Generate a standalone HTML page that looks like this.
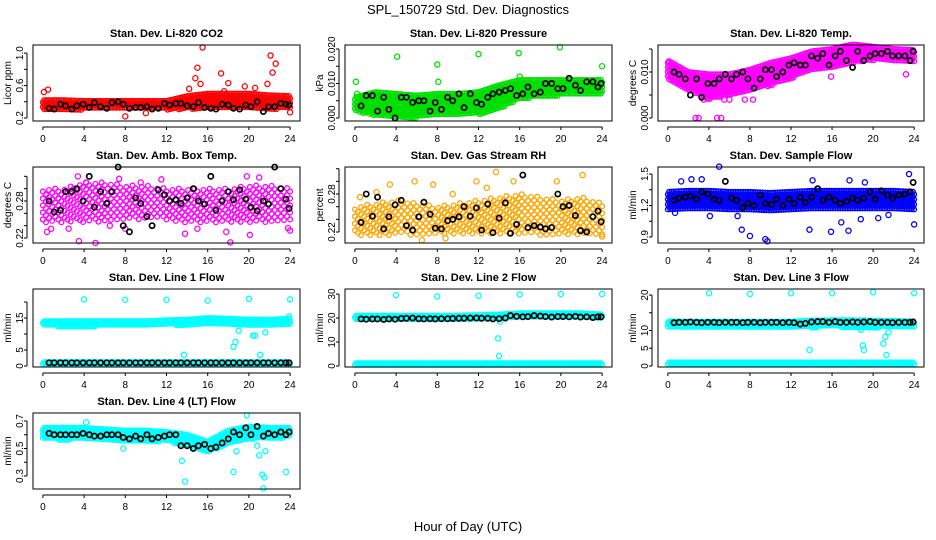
<!DOCTYPE html>
<html><head><meta charset="utf-8"><style>
body{margin:0;background:#fff;}
svg{display:block;font-family:"Liberation Sans",sans-serif;}
.t{font-weight:bold;font-size:11px;}
.k{font-size:10px;}
</style></head><body>
<svg id="c" width="936" height="540" viewBox="0 0 936 540">
<text x="468" y="14" text-anchor="middle" font-size="13">SPL_150729  Std. Dev. Diagnostics</text>
<text x="468" y="531" text-anchor="middle" font-size="13">Hour of Day (UTC)</text>
</svg>
<script>
const xTicks=[0,4,8,12,16,20,24];
const bandHours=[0,2,4,6,8,10,12,14,16,18,20,22,24];
const blackHours=[0.6,1.1,1.7,2.2,2.8,3.3,3.9,4.5,5.0,5.6,6.2,6.7,7.3,7.8,8.4,9.0,9.5,10.1,10.6,11.2,11.8,12.3,12.9,13.4,14.0,14.6,15.1,15.7,16.3,16.8,17.4,18.0,18.5,19.1,19.7,20.2,20.8,21.4,21.9,22.5,23.1,23.6,23.9];

const co2Lo=[0.30,0.30,0.30,0.30,0.30,0.30,0.30,0.31,0.31,0.31,0.31,0.31,0.31];
const co2Hi=[0.42,0.42,0.41,0.41,0.41,0.41,0.41,0.47,0.50,0.50,0.50,0.48,0.47];
const co2OutX=[15.5,22.1,22.6,15,17.3,22.3,14.8,21.8,18,19.6,0.1,0.5,8,24,10,15.3,14.2,17.6,20.6];
const co2OutY=[1.07,0.97,0.87,0.82,0.75,0.76,0.69,0.62,0.63,0.59,0.52,0.55,0.22,0.27,0.26,0.62,0.56,0.53,0.57];
const co2Blk=[0.32,0.31,0.37,0.35,0.31,0.35,0.37,0.33,0.39,0.34,0.32,0.39,0.40,0.37,0.32,0.33,0.33,0.34,0.31,0.32,0.38,0.36,0.38,0.38,0.35,0.34,0.39,0.33,0.32,0.31,0.37,0.36,0.32,0.31,0.36,0.34,0.40,0.28,0.34,0.34,0.38,0.37,0.36];

const presLo=[0.002,0.0005,0,0,0.0005,0.001,0.001,0.0025,0.0055,0.006,0.0065,0.0065,0.007];
const presHi=[0.006,0.0075,0.007,0.0065,0.007,0.007,0.0075,0.0095,0.011,0.011,0.011,0.011,0.011];
const presOutX=[0.1,4.1,8,8.1,12,15.9,16,19.9,24,0.2];
const presOutY=[0.0105,0.0178,0.0155,0.0105,0.0185,0.0188,0.012,0.0205,0.015,0.007];
const presBlk=[0.0035,0.0065,0.0065,0.002,0.006,0.0025,0.000,0.006,0.006,0.0045,0.005,0.005,0.002,0.0045,0.0025,0.006,0.005,0.007,0.003,0.007,0.0045,0.004,0.006,0.007,0.0075,0.008,0.0085,0.0065,0.007,0.009,0.007,0.0075,0.010,0.010,0.0085,0.0085,0.0115,0.0095,0.008,0.0105,0.0105,0.009,0.010];

const tempLo=[0.0085,0.006,0.004,0.005,0.006,0.007,0.0085,0.0105,0.011,0.012,0.0125,0.0125,0.012];
const tempHi=[0.0125,0.010,0.0095,0.0095,0.0105,0.012,0.013,0.0145,0.015,0.016,0.0155,0.015,0.0148];
const tempOutX=[3,4.8,5.2,3.5,6,8.3,15.9,23.2,0.1,2.7,5.5,7.5];
const tempOutY=[0,0,0,0.004,0.004,0.004,0.009,0.0095,0.0122,0,0.004,0.004];
const tempBlk=[0.010,0.0095,0.0085,0.005,0.0085,0.0045,0.0075,0.0075,0.0085,0.0095,0.0085,0.0095,0.010,0.0085,0.0065,0.0085,0.0105,0.0105,0.009,0.010,0.0115,0.012,0.0115,0.0115,0.0135,0.013,0.014,0.0115,0.0135,0.0145,0.0125,0.011,0.0145,0.0125,0.0135,0.014,0.014,0.0145,0.0135,0.0135,0.0135,0.0125,0.0145];

const ambLo=[0.245,0.245,0.245,0.245,0.25,0.25,0.25,0.245,0.245,0.245,0.245,0.245,0.245];
const ambHi=[0.30,0.30,0.31,0.31,0.305,0.305,0.30,0.30,0.30,0.30,0.305,0.305,0.30];
const ambOutX=[0.4,0.8,3.5,3.4,5.1,7.4,8,13.8,17.8,18.2,19.8,20.1,24,23.8,2.5,0.3,9.5,11.5,15,21,6.5,4.2];
const ambOutY=[0.23,0.235,0.215,0.32,0.212,0.316,0.235,0.227,0.23,0.213,0.32,0.225,0.232,0.236,0.235,0.29,0.31,0.315,0.235,0.318,0.24,0.31];
const ambBlk=[0.28,0.262,0.265,0.295,0.295,0.30,0.28,0.32,0.27,0.295,0.276,0.295,0.335,0.24,0.23,0.285,0.276,0.255,0.24,0.298,0.29,0.28,0.282,0.276,0.285,0.30,0.28,0.275,0.32,0.265,0.28,0.295,0.282,0.298,0.283,0.27,0.264,0.28,0.275,0.335,0.30,0.283,0.268];

const rhLo=[0.215,0.215,0.215,0.215,0.215,0.215,0.215,0.215,0.215,0.215,0.215,0.215,0.215];
const rhHi=[0.26,0.265,0.27,0.265,0.26,0.265,0.27,0.275,0.28,0.275,0.27,0.275,0.265];
const rhOutX=[5.8,7.6,3.4,11.8,13.7,15.4,19.6,22.1,6.5,8.8,24,2.1,0.5,9.5,12.8];
const rhOutY=[0.30,0.295,0.295,0.30,0.315,0.30,0.30,0.31,0.207,0.21,0.213,0.283,0.275,0.28,0.29];
const rhBlk=[0.235,0.28,0.245,0.275,0.225,0.244,0.263,0.27,0.23,0.223,0.244,0.267,0.248,0.226,0.225,0.238,0.24,0.244,0.26,0.245,0.258,0.223,0.264,0.219,0.242,0.266,0.218,0.232,0.31,0.227,0.23,0.228,0.225,0.227,0.28,0.26,0.262,0.246,0.222,0.22,0.244,0.253,0.236];

const flowLo=[1.15,1.15,1.15,1.15,1.14,1.15,1.15,1.16,1.16,1.16,1.15,1.15,1.16];
const flowHi=[1.33,1.34,1.34,1.33,1.33,1.32,1.33,1.34,1.34,1.34,1.34,1.34,1.33];
const flowOutX=[5,23.5,5.6,1.3,2.3,17.7,9.5,9.7,8,7.2,15.9,16.9,17.6,24,13.8,18.8,20.5,19.2,14.1,6.8,4.1,3.3,0.7,21.5];
const flowOutY=[1.57,1.50,1.43,1.43,1.45,1.44,0.88,0.86,0.91,0.97,0.95,1.04,0.96,1.02,0.97,1.07,1.08,1.42,1.44,1.10,1.10,1.45,1.13,1.11];
const flowBlk=[1.25,1.27,1.28,1.29,1.26,1.33,1.31,1.26,1.25,1.43,1.27,1.25,1.18,1.22,1.20,1.30,1.22,1.21,1.26,1.20,1.26,1.22,1.28,1.23,1.28,1.36,1.25,1.28,1.25,1.22,1.24,1.27,1.25,1.27,1.33,1.26,1.34,1.30,1.27,1.30,1.31,1.33,1.42];

const l1Lo=[12.5,12.3,12.3,12.4,12.5,12.6,12.7,12.8,13.2,13,12.8,12.8,13];
const l1Hi=[14,14,14,14,14,14,14.3,14.5,15,14.8,14.5,14.5,14.8];
const l1Lo2=[0.6,0.6,0.6,0.6,0.6,0.6,0.6,0.6,0.6,0.6,0.6,0.6,0.6];
const l1Hi2=[1.2,1.2,1.2,1.2,1.2,1.2,1.2,1.2,1.2,1.2,1.2,1.2,1.2];
const l1OutX=[4,8,12,16,20,24,13.7,18.5,18.7,19,20.4,20.6,21.1,21.6,23.9];
const l1OutY=[20.8,20.7,20.7,20.4,21,20.8,3.5,6,7.5,11,9.5,9.5,3.5,10.5,15.5];
const l1Blk=[1,1,1,1,1,1,1,1,1,1,1,1,1,1,1,1,1,1,1,1,1,1,1,1,1,1,1,1,1,1,1,1,1,1,1,1,1,1,1,1,1,1,1];

const l2Lo=[19,19,19,19,19,19.2,19.3,19.5,20,20,20,20,20];
const l2Hi=[21,21,21,21,21,21,21.2,21.5,22,22,22,22,21.5];
const l2Lo2=[0.3,0.3,0.3,0.3,0.3,0.3,0.3,0.3,0.3,0.3,0.3,0.3,0.3];
const l2Hi2=[1.2,1.2,1.2,1.2,1.2,1.2,1.2,1.2,1.2,1.2,1.2,1.2,1.2];
const l2OutX=[4,8,12,16,20,24,13.9,14,14.1];
const l2OutY=[29.5,29,29.3,29.8,30,30,11.5,4.2,18.5];
const l2Blk=[19.6,19.5,19.6,19.6,19.4,19.6,19.5,19.8,19.9,20,19.7,19.6,19.7,19.6,19.7,19.7,19.8,19.9,19.9,20,20,19.9,19.9,19.6,19.7,20,21,20.7,20.5,20.6,21,20.8,20.6,20.4,20.6,20.6,20.5,20.7,20.4,20.5,20.2,20.5,20.5];

const l3Lo=[10.8,10.6,10.6,10.6,10.7,10.7,10.8,10.8,11,10.8,10.8,10.8,10.8];
const l3Hi=[12.6,12.5,12.5,12.5,12.5,12.5,12.5,12.8,12.9,12.9,12.8,12.7,12.6];
const l3Lo2=[0.3,0.3,0.3,0.3,0.3,0.3,0.3,0.3,0.3,0.3,0.3,0.3,0.3];
const l3Hi2=[1.0,1.0,1.0,1.0,1.0,1.0,1.0,1.0,1.0,1.0,1.0,1.0,1.0];
const l3OutX=[4,8,12,16,20,24,13.8,19,19.1,21,21.2,21.3,21.5,18.8];
const l3OutY=[20.5,20.3,20.5,20.5,20.8,20.5,4.5,5.8,4.5,6.3,8.2,3.1,9.5,10.2];
const l3Blk=[12.2,12.3,12.3,12.4,12.3,12.2,12.3,12.3,12.2,12.3,12.3,12.3,12.2,12.3,12.3,12.2,12.3,12.3,12.3,12.2,12.3,12.2,11.8,12.0,12.4,12.5,12.5,12.3,12.5,12.3,12.3,12.4,12.3,12.4,12.5,12.3,12.3,12.3,12.2,12.3,12.3,12.3,12.4];

const l4Lo=[0.57,0.56,0.57,0.56,0.55,0.55,0.55,0.52,0.47,0.53,0.57,0.57,0.58];
const l4Hi=[0.65,0.65,0.65,0.64,0.63,0.63,0.62,0.60,0.55,0.63,0.66,0.65,0.65];
const l4OutX=[4.2,7.8,13.5,13.8,18.5,18.8,19.8,21,21.3,21.4,21.5,21.6,23.6,20.8];
const l4OutY=[0.69,0.50,0.41,0.26,0.33,0.48,0.74,0.45,0.31,0.21,0.29,0.48,0.33,0.52];
const l4Blk=[0.61,0.60,0.60,0.60,0.60,0.60,0.61,0.60,0.59,0.59,0.60,0.60,0.60,0.58,0.57,0.59,0.57,0.60,0.57,0.58,0.59,0.60,0.60,0.52,0.52,0.50,0.52,0.53,0.50,0.51,0.54,0.57,0.62,0.60,0.65,0.60,0.66,0.59,0.61,0.60,0.62,0.60,0.62];

const panels=[
 {id:"co2",col:0,row:0,title:"Stan. Dev. Li-820 CO2",ylab:"Licor ppm",d:[0.163,1.10],ticks:[0.2,0.4,0.6,0.8,1.0],labels:["0.2","","0.6","","1.0"],color:"#ff0000",lo:co2Lo,hi:co2Hi,ox:co2OutX,oy:co2OutY,blk:co2Blk,step:4.5},
 {id:"pressure",col:1,row:0,title:"Stan. Dev. Li-820 Pressure",ylab:"kPa",d:[-0.00087,0.02116],ticks:[0,0.005,0.01,0.015,0.02],labels:["0.000","","0.010","","0.020"],color:"#00e000",lo:presLo,hi:presHi,ox:presOutX,oy:presOutY,blk:presBlk,step:4.5},
 {id:"temp",col:2,row:0,title:"Stan. Dev. Li-820 Temp.",ylab:"degrees C",d:[-0.00065,0.01587],ticks:[0,0.005,0.01,0.015],labels:["0.000","","0.010",""],color:"#ff00ff",lo:tempLo,hi:tempHi,ox:tempOutX,oy:tempOutY,blk:tempBlk,step:4.5},
 {id:"ambbox",col:0,row:1,title:"Stan. Dev. Amb. Box Temp.",ylab:"degrees C",d:[0.2119,0.3351],ticks:[0.22,0.24,0.26,0.28,0.30,0.32],labels:["0.22","","","0.28","",""],color:"#ff00ff",lo:ambLo,hi:ambHi,ox:ambOutX,oy:ambOutY,blk:ambBlk,step:7,sparse:true},
 {id:"rh",col:1,row:1,title:"Stan. Dev. Gas Stream RH",ylab:"percent",d:[0.2026,0.3227],ticks:[0.22,0.24,0.26,0.28,0.30,0.32],labels:["0.22","","","0.28","",""],color:"#ffa500",lo:rhLo,hi:rhHi,ox:rhOutX,oy:rhOutY,blk:rhBlk,step:7,sparse:true},
 {id:"sampleflow",col:2,row:1,title:"Stan. Dev. Sample Flow",ylab:"ml/min",d:[0.843,1.567],ticks:[0.9,1.05,1.2,1.35,1.5],labels:["0.9","","1.2","","1.5"],color:"#0000ff",lo:flowLo,hi:flowHi,ox:flowOutX,oy:flowOutY,blk:flowBlk,step:5},
 {id:"line1",col:0,row:2,title:"Stan. Dev. Line 1 Flow",ylab:"ml/min",d:[-0.31,24.06],ticks:[0,5,10,15,20],labels:["0","5","","15",""],color:"#00ffff",lo:l1Lo,hi:l1Hi,lo2:l1Lo2,hi2:l1Hi2,ox:l1OutX,oy:l1OutY,blk:l1Blk,step:3.5},
 {id:"line2",col:1,row:2,title:"Stan. Dev. Line 2 Flow",ylab:"ml/min",d:[-0.42,32.1],ticks:[0,10,20,30],labels:["0","10","20","30"],color:"#00ffff",lo:l2Lo,hi:l2Hi,lo2:l2Lo2,hi2:l2Hi2,ox:l2OutX,oy:l2OutY,blk:l2Blk,step:3.5},
 {id:"line3",col:2,row:2,title:"Stan. Dev. Line 3 Flow",ylab:"ml/min",d:[-0.29,21.7],ticks:[0,5,10,15,20],labels:["0","5","10","","20"],color:"#00ffff",lo:l3Lo,hi:l3Hi,lo2:l3Lo2,hi2:l3Hi2,ox:l3OutX,oy:l3OutY,blk:l3Blk,step:3.5},
 {id:"line4",col:0,row:3,title:"Stan. Dev. Line 4 (LT) Flow",ylab:"ml/min",d:[0.2055,0.758],ticks:[0.3,0.4,0.5,0.6,0.7],labels:["0.3","","0.5","","0.7"],color:"#00ffff",lo:l4Lo,hi:l4Hi,ox:l4OutX,oy:l4OutY,blk:l4Blk,step:4}
];
const boxL=[33,345,658], boxR=[300,612,924];
const boxT=[45,167,289,413], boxB=[121,243,367,489];
const svg=document.getElementById('c');
const NS="http://www.w3.org/2000/svg";
function mk(tag,attrs,parent){const e=document.createElementNS(NS,tag);for(const k in attrs)e.setAttribute(k,attrs[k]);(parent||svg).appendChild(e);return e;}
function interp(arr,h){let i=Math.min(Math.floor(h/2),11);const f=(h-bandHours[i])/2;return arr[i]+(arr[i+1]-arr[i])*f;}

panels.forEach(p=>{
 const L=boxL[p.col],R=boxR[p.col],T=boxT[p.row],B=boxB[p.row];
 const xs=h=>L+(h+0.96)/25.92*(R-L);
 const ys=v=>B-(v-p.d[0])/(p.d[1]-p.d[0])*(B-T);
 const g=mk('g',{});
 
 
 const tt=mk('text',{x:(L+R)/2,y:T-8,'text-anchor':'middle',class:'t'},g);tt.textContent=p.title;
 
 
 const yl=mk('text',{x:0,y:0,'text-anchor':'middle',class:'k',transform:`translate(${L-22},${(T+B)/2}) rotate(-90)`},g);yl.textContent=p.ylab;
 
 
 const y0=ys(p.ticks[0]),y1=ys(p.ticks[p.ticks.length-1]);
 mk('line',{x1:L-6,x2:L-6,y1:y0,y2:y1,stroke:'#000'},g);
 p.ticks.forEach((t,i)=>{const y=ys(t);mk('line',{x1:L-6,x2:L-9,y1:y,y2:y,stroke:'#000'},g);
  if(p.labels[i]){const lt=mk('text',{x:0,y:0,'text-anchor':'middle',class:'k',transform:`translate(${L-10},${y}) rotate(-90)`},g);lt.textContent=p.labels[i];
  
  }});
 mk('line',{x1:xs(0),x2:xs(24),y1:B+6,y2:B+6,stroke:'#000'},g);
 xTicks.forEach(t=>{const x=xs(t);mk('line',{x1:x,x2:x,y1:B+6,y2:B+9,stroke:'#000'},g);
  const lt=mk('text',{x:x,y:B+21,'text-anchor':'middle',class:'k'},g);lt.textContent=t;
  
  });
 const dg=mk('g',{fill:'none',stroke:p.color,'stroke-width':1.3},g);
 
 
 function band(lo,hi){
  const hs=p.sparse?0.3:0.12;let k=0;
  for(let h=0;h<=24.001;h+=hs){k++;
   const a=ys(interp(lo,h)),b=ys(interp(hi,h));
   const off=p.sparse?((k*7)%5)*1.4:(k%2)*p.step/2;
   for(let y=b+off;y<=a;y+=p.step){mk('circle',{cx:xs(h),cy:y,r:2.4},dg);}
  }
 }
 band(p.lo,p.hi);
 if(p.lo2)band(p.lo2,p.hi2);
 p.ox.forEach((h,i)=>mk('circle',{cx:xs(h),cy:ys(p.oy[i]),r:2.6},dg));
 const bg=mk('g',{fill:'none',stroke:'#000','stroke-width':1.7},g);
 
 
 blackHours.forEach((h,i)=>mk('circle',{cx:xs(h),cy:ys(p.blk[i]),r:2.6},bg));
 const bx=mk('rect',{x:L,y:T,width:R-L,height:B-T,fill:'none',stroke:'#000'},g);
 
 
});
</script>
</body></html>
